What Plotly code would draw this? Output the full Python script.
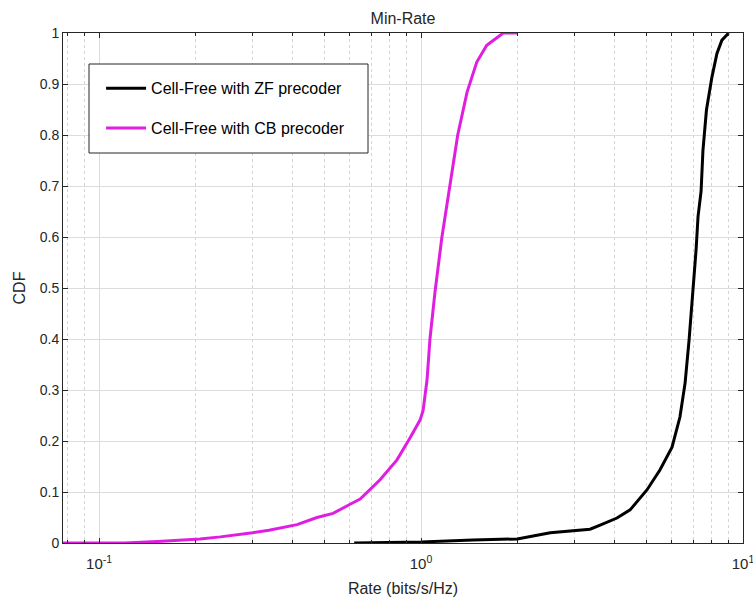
import plotly.graph_objects as go

# ZF precoder CDF (rate in bits/s/Hz)
zf_rate = [0.62, 1.0, 1.45, 1.99, 2.52, 3.35, 3.60, 4.06, 4.46, 5.03, 5.52, 6.02,
           6.37, 6.61, 6.80, 7.0, 7.15, 7.25, 7.41, 7.51, 7.7, 8.01, 8.30, 8.6, 9.03]
zf_cdf = [0, 0.002, 0.006, 0.008, 0.02, 0.027, 0.035, 0.049, 0.065, 0.104, 0.143, 0.188,
          0.247, 0.314, 0.398, 0.496, 0.575, 0.64, 0.69, 0.77, 0.849, 0.914, 0.96, 0.986, 1.0]

# CB precoder CDF
cb_rate = [0.0773, 0.12, 0.152, 0.179, 0.206, 0.238, 0.27, 0.30, 0.337, 0.373, 0.412,
           0.475, 0.533, 0.602, 0.647, 0.746, 0.842, 0.924, 0.993, 1.015, 1.044, 1.066,
           1.09, 1.105, 1.16, 1.23, 1.30, 1.39, 1.49, 1.60, 1.80, 1.99]
cb_cdf = [0, 0, 0.003, 0.005, 0.008, 0.012, 0.016, 0.02, 0.025, 0.03, 0.036,
          0.05, 0.058, 0.076, 0.086, 0.124, 0.163, 0.206, 0.241, 0.26, 0.32, 0.40,
          0.463, 0.492, 0.598, 0.702, 0.80, 0.884, 0.943, 0.976, 1.0, 1.0]

series_names = ["Cell-Free with ZF precoder", "Cell-Free with CB precoder"]
x_major = [0.1, 1, 10]
x_major_text = ["10<sup>-1</sup>", "10<sup>0</sup>", "10<sup>1</sup>"]
x_minor = [0.08, 0.09] + [m * d for d in (0.1, 1) for m in range(2, 10)]
y_ticks = [0, 0.1, 0.2, 0.3, 0.4, 0.5, 0.6, 0.7, 0.8, 0.9, 1]
y_text = ["0", "0.1", "0.2", "0.3", "0.4", "0.5", "0.6", "0.7", "0.8", "0.9", "1"]

FONT = "Liberation Sans, Arial, Helvetica, sans-serif"
AX = "#262626"

fig = go.Figure()
fig.add_trace(go.Scatter(x=zf_rate, y=zf_cdf, mode="lines", name=series_names[0],
                         legendgroup="a", line=dict(color="black", width=3)))
fig.add_trace(go.Scatter(x=cb_rate, y=cb_cdf, mode="lines", name=series_names[1],
                         legendgroup="b", line=dict(color="#e01ee0", width=3)))

fig.update_layout(
    width=753, height=597,
    margin=dict(l=63, r=10, t=33, b=54),
    paper_bgcolor="white", plot_bgcolor="white",
    font=dict(family=FONT, color=AX, size=14),
    title=dict(text="Min-Rate", x=0.5, xref="paper", y=1 - 18 / 597, yanchor="middle",
               font=dict(size=16, color=AX)),
    showlegend=True,
    legend=dict(x=0.056, y=0.925, xanchor="left", yanchor="top",
                bgcolor="rgba(0,0,0,0)", borderwidth=0,
                font=dict(size=16, color="black"), tracegroupgap=16,
                itemwidth=40),
    shapes=[dict(type="rect", xref="paper", yref="paper",
                 x0=(89 - 63) / 680, x1=(368 - 63) / 680,
                 y0=(543 - 153) / 510, y1=(543 - 64) / 510,
                 line=dict(color=AX, width=1), fillcolor="white", layer="above")],
)

fig.update_xaxes(
    type="log", range=[-1.112, 1],
    tickmode="array", tickvals=x_major, ticktext=x_major_text,
    ticks="inside", ticklen=5, tickcolor=AX,
    showline=True, linecolor=AX, linewidth=1, mirror="ticks",
    showgrid=True, gridcolor="#dcdcdc", gridwidth=1,
    minor=dict(tickmode="array", tickvals=x_minor, ticks="inside", ticklen=3,
               tickcolor=AX, showgrid=True, gridcolor="#d4d4d4", griddash="dot",
               gridwidth=1),
    title=dict(text="Rate (bits/s/Hz)", font=dict(size=16, color=AX), standoff=12),
    tickfont=dict(size=15, color=AX),
    ticklabelstandoff=7,
    ticklabeloverflow="allow",
    automargin=False,
    zeroline=False,
)
fig.update_yaxes(
    range=[0, 1], tickmode="array", tickvals=y_ticks, ticktext=y_text,
    ticks="inside", ticklen=5, tickcolor=AX,
    showline=True, linecolor=AX, linewidth=1, mirror="ticks",
    showgrid=True, gridcolor="#dcdcdc", gridwidth=1,
    title=dict(text="CDF", font=dict(size=16, color=AX), standoff=10),
    tickfont=dict(size=14, color=AX),
    automargin=False,
    zeroline=False,
)

fig.write_html("out.html")
